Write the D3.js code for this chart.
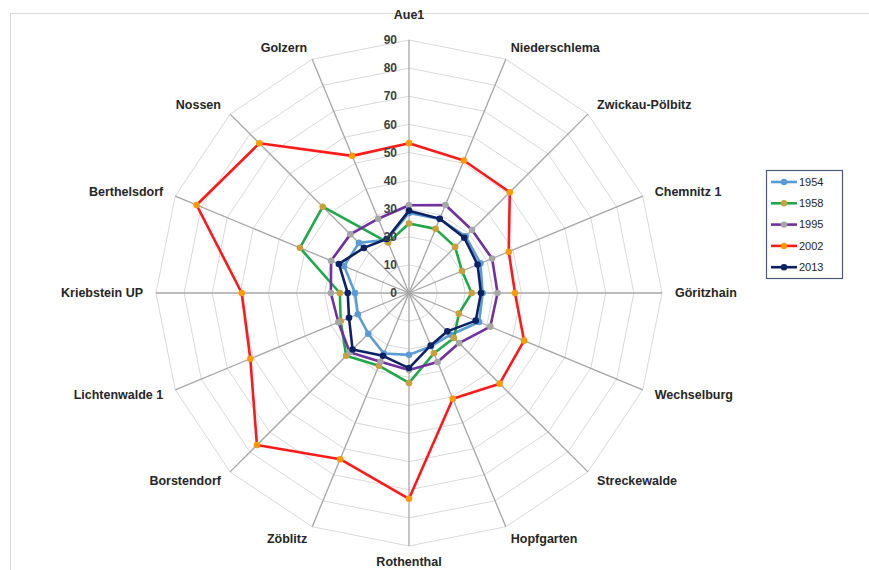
<!DOCTYPE html>
<html>
<head>
<meta charset="utf-8">
<script src="https://cdn.jsdelivr.net/npm/d3@7"></script>
<style>
    body { margin: 0; background: #fff; }
</style>
</head>
<body>
<div class="radar"></div>
<script>
const stations = ['Aue1', 'Niederschlema', 'Zwickau-Pölbitz', 'Chemnitz 1', 'Göritzhain', 'Wechselburg',
    'Streckewalde', 'Hopfgarten', 'Rothenthal', 'Zöblitz', 'Borstendorf', 'Lichtenwalde 1',
    'Kriebstein UP', 'Berthelsdorf', 'Nossen', 'Golzern'];
const years = ['1954', '1958', '1995', '2002', '2013'];
const ticks = [0, 10, 20, 30, 40, 50, 60, 70, 80, 90];

const v1954 = [28.5, 28.5, 28.5, 27.5, 26.2, 27, 21, 20.5, 22, 23.3, 20.5, 19.7, 19.2, 25, 25.2, 20.5];
const v1958 = [24.7, 24.7, 23.2, 20.4, 22.3, 19.2, 22.6, 23.2, 32, 28, 31.6, 26.3, 24.6, 42, 43.4, 19.4];
const v1995 = [31.2, 33.9, 31.7, 32, 31.5, 31.3, 25.2, 26.6, 27.4, 26.5, 29.8, 27.2, 27.8, 30, 29.5, 28.6];
const v2002 = [53.3, 51, 50.7, 38.4, 37.7, 44.3, 45.6, 40.7, 73.2, 64, 76.5, 61.1, 59.5, 81.8, 75.3, 52.8];
const v2013 = [29.3, 28.6, 27.8, 26.4, 25.6, 25.7, 19.3, 20.2, 26.7, 24.2, 28.4, 23.1, 21.8, 27, 22.7, 20.8];

const lineColors = ['#5b9bd5', '#1fa84a', '#7030a0', '#ff1a1a', '#0d2265'];
const markerColors = ['#5b9bd5', '#c8a03c', '#a6a6a6', '#ff9a00', '#0d2265'];

function draw_radar() {
    let width = 869, height = 570;
    let cx = 409, cy = 293;
    let fontFamily = 'Liberation Sans, Arial, sans-serif';

    let svg = d3.select('.radar')
        .append('svg')
        .attr('width', width)
        .attr('height', height);

    // frame of the original figure
    svg.append('rect')
        .attr('x', 10.5).attr('y', 13.5)
        .attr('width', 880).attr('height', 580)
        .attr('fill', 'none')
        .attr('stroke', '#d9d9d9');

    let r = d3.scaleLinear().domain([0, 90]).range([0, 253]);
    let angle = d3.scalePoint().domain(stations).range([0, 2 * Math.PI * 15 / 16]);
    let pt = (name, v) => [Math.sin(angle(name)) * r(v), -Math.cos(angle(name)) * r(v)];

    let g = svg.append('g')
        .attr('font-family', fontFamily)
        .attr('transform', `translate(${cx}, ${cy})`);

    // rings
    g.selectAll('.ring')
        .data(ticks.slice(1))
        .join('polygon')
        .attr('points', t => stations.map(s => pt(s, t).join(',')).join(' '))
        .attr('fill', 'none')
        .attr('stroke', '#d9d9d9')
        .attr('stroke-width', 1);

    // spokes
    g.selectAll('.spoke')
        .data(stations)
        .join('line')
        .attr('x1', 0).attr('y1', 0)
        .attr('x2', s => pt(s, 90)[0])
        .attr('y2', s => pt(s, 90)[1])
        .attr('stroke', '#a6a6a6')
        .attr('stroke-width', 1.3);

    // station labels
    g.selectAll('.lab')
        .data(stations)
        .join('text')
        .attr('x', s => {
            let a = angle(s);
            let x = Math.sin(a) * (r(90) + 13);
            return Math.abs(Math.sin(a)) < 0.01 ? 0 : x;
        })
        .attr('y', s => {
            let a = angle(s);
            let c = -Math.cos(a);
            if (Math.abs(Math.sin(a)) < 0.01) {
                // top label sits higher, bottom one is squeezed against the edge
                return c < 0 ? -(r(90) + 25) : r(90) + 16;
            }
            return c * (r(90) + 13);
        })
        .attr('dy', '0.35em')
        .attr('text-anchor', s => {
            let sx = Math.sin(angle(s));
            return Math.abs(sx) < 0.01 ? 'middle' : (sx > 0 ? 'start' : 'end');
        })
        .attr('font-size', 12.5)
        .attr('font-weight', 'bold')
        .attr('fill', '#262626')
        .text(s => s);

    let series = [v1954, v1958, v1995, v2002, v2013];
    let line = d3.lineRadial()
        .angle((d, i) => angle(stations[i]))
        .radius(d => r(d))
        .curve(d3.curveLinearClosed);

    series.forEach((vals, k) => {
        let sg = g.append('g');
        sg.append('path')
            .attr('d', line(vals))
            .attr('fill', 'none')
            .attr('stroke', lineColors[k])
            .attr('stroke-width', 2.6)
            .attr('stroke-linejoin', 'round');
        sg.selectAll('circle')
            .data(vals)
            .join('circle')
            .attr('cx', (d, i) => pt(stations[i], d)[0])
            .attr('cy', (d, i) => pt(stations[i], d)[1])
            .attr('r', 3.3)
            .attr('fill', markerColors[k]);
    });

    // tick labels along the top spoke
    g.selectAll('.tick')
        .data(ticks)
        .join('text')
        .attr('x', -12)
        .attr('y', t => -r(t))
        .attr('dy', '0.35em')
        .attr('text-anchor', 'end')
        .attr('font-size', 12)
        .attr('font-weight', 'bold')
        .attr('fill', '#404040')
        .text(t => t);

    // legend
    let legend = svg.append('g')
        .attr('font-family', fontFamily)
        .attr('transform', 'translate(766, 170)');
    legend.append('rect')
        .attr('x', 0.5).attr('y', 0.5)
        .attr('width', 76).attr('height', 108)
        .attr('fill', '#fff')
        .attr('stroke', '#4a5a7a')
        .attr('stroke-width', 1.2);
    let item = legend.selectAll('.item')
        .data(years)
        .join('g')
        .attr('transform', (d, i) => `translate(0, ${12 + i * 21.3})`);
    item.append('line')
        .attr('x1', 5).attr('x2', 31)
        .attr('stroke', (d, i) => lineColors[i])
        .attr('stroke-width', 2.6);
    item.append('circle')
        .attr('cx', 18).attr('r', 3.2)
        .attr('fill', (d, i) => markerColors[i]);
    item.append('text')
        .attr('x', 33)
        .attr('dy', '0.35em')
        .attr('font-size', 11)
        .attr('fill', '#262626')
        .text(d => d);
}

draw_radar();
</script>
</body>
</html>
